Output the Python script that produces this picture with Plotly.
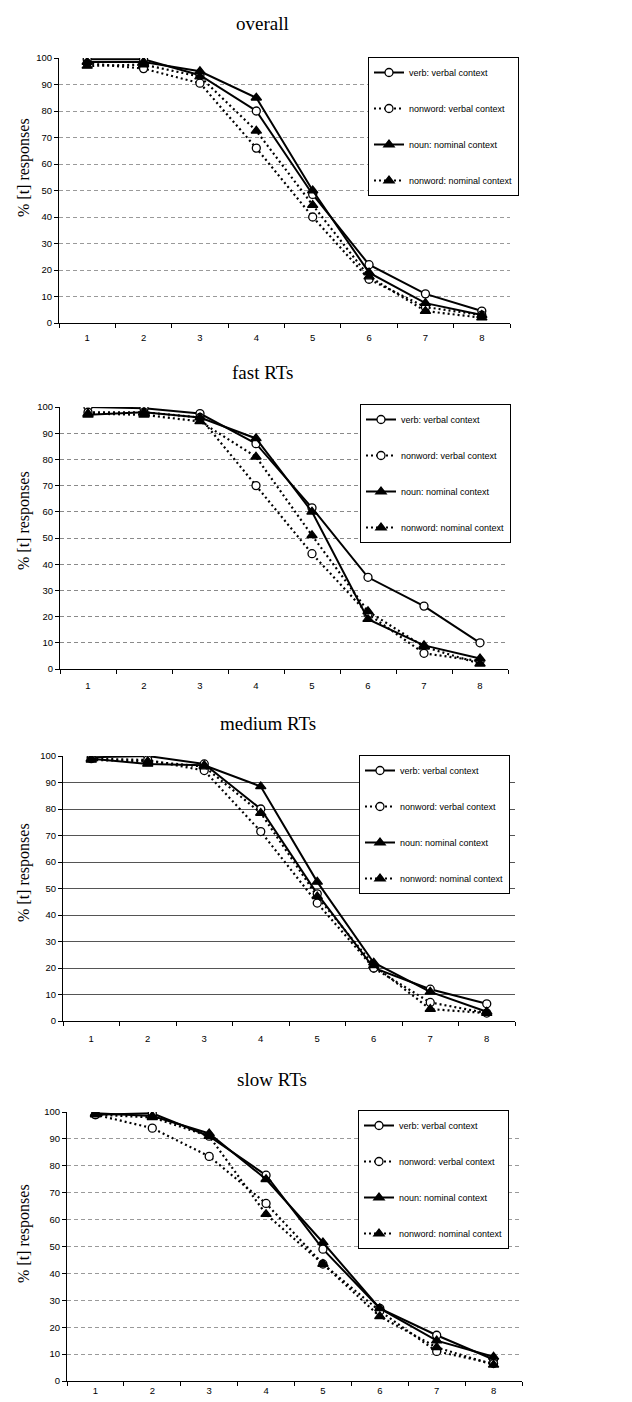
import plotly.graph_objects as go

W, H = 632, 1402

categories = [1, 2, 3, 4, 5, 6, 7, 8]
panel_titles = ["overall", "fast RTs", "medium RTs", "slow RTs"]
series_names = ["verb: verbal context", "nonword: verbal context",
                "noun: nominal context", "nonword: nominal context"]
y_title = "% [t] responses"
y_ticks = [0, 10, 20, 30, 40, 50, 60, 70, 80, 90, 100]

# overall
overall_verb = [99.5, 99.5, 93.5, 80, 48.5, 22, 11, 4.5]
overall_nonword_verbal = [98, 96, 90.5, 66, 40, 16.5, 6, 3]
overall_noun = [98.5, 98.5, 95, 85, 50, 19, 7.5, 3]
overall_nonword_nominal = [97, 97.5, 93, 72.5, 44.5, 17.5, 4.5, 2]
# fast RTs
fast_verb = [100, 99.5, 97.5, 86, 61.5, 35, 24, 10]
fast_nonword_verbal = [98, 98, 96, 70, 44, 21, 6, 3]
fast_noun = [97, 98, 96, 88, 60, 19, 9, 4]
fast_nonword_nominal = [97.5, 97, 94.5, 81, 51, 22, 8.5, 2]
# medium RTs
medium_verb = [99.5, 100, 97, 80, 48, 20, 12, 6.5]
medium_nonword_verbal = [99, 98.5, 94.5, 71.5, 44.5, 20, 7, 3]
medium_noun = [99, 97, 96.5, 88.5, 52.5, 22, 11, 3.5]
medium_nonword_nominal = [98.5, 98, 96, 78.5, 47, 21, 4.5, 3]
# slow RTs
slow_verb = [99, 99.5, 91, 76.5, 49, 27, 17, 8]
slow_nonword_verbal = [99, 94, 83.5, 66, 43.5, 26, 11, 6.5]
slow_noun = [99.5, 98.5, 92, 75, 51.5, 27, 15, 9]
slow_nonword_nominal = [99, 98, 91, 62, 43.5, 24, 12.5, 6]

panel_data = [
    [overall_verb, overall_nonword_verbal, overall_noun, overall_nonword_nominal],
    [fast_verb, fast_nonword_verbal, fast_noun, fast_nonword_nominal],
    [medium_verb, medium_nonword_verbal, medium_noun, medium_nonword_nominal],
    [slow_verb, slow_nonword_verbal, slow_noun, slow_nonword_nominal],
]

# layout in pixels: (left, right, top(y=100), bottom(y=0))
plot_px = [(59, 510, 58, 323), (60, 508, 407, 669), (63, 515, 756, 1021), (67, 522, 1112, 1381)]
x_label_gap = [6, 8, 9, 1]
title_px = [(262, 23), (262, 373), (268, 723), (272, 1079)]
ytitle_py = [168, 521, 873, 1234]
legend_px = [(368, 57), (360, 404), (359, 755), (358, 1110)]
grid_styles = [("#9a9a9a", "4px,3px"), ("#8a8a8a", "4px,3px"), ("#555555", "solid"), ("#9a9a9a", "4px,3px")]

styles = [
    dict(dash="solid", symbol="circle"),
    dict(dash="2px,3px", symbol="circle"),
    dict(dash="solid", symbol="triangle-up"),
    dict(dash="2px,3px", symbol="triangle-up"),
]

def px_x(v):
    return v / W

def px_y(v):
    return 1 - v / H

fig = go.Figure()
annotations = []
for p in range(4):
    sfx = "" if p == 0 else str(p + 1)
    leg = "legend" if p == 0 else f"legend{p + 1}"
    for s in range(4):
        st = styles[s]
        is_circle = st["symbol"] == "circle"
        fig.add_trace(go.Scatter(
            x=categories, y=panel_data[p][s], name=series_names[s],
            mode="lines+markers",
            xaxis="x" + sfx, yaxis="y" + sfx,
            legend=leg, legendgroup=f"g{p}_{s}",
            line=dict(color="black", width=2 if st["dash"] == "solid" else 2.2, dash=st["dash"]),
            marker=dict(symbol=st["symbol"],
                        size=8 if is_circle else 9,
                        color="white" if is_circle else "black",
                        line=dict(color="black", width=1.3)),
            showlegend=True,
        ))
    l, r, t, b = plot_px[p]
    gc, gd = grid_styles[p]
    fig.layout["xaxis" + sfx] = dict(
        domain=[px_x(l), px_x(r)], anchor="y" + sfx, range=[0.5, 8.5],
        tickmode="array", tickvals=categories, ticktext=[str(c) for c in categories],
        ticks="outside", ticklen=x_label_gap[p], tickcolor="rgba(0,0,0,0)",
        minor=dict(tickmode="array", tickvals=[c + 0.5 for c in [0] + categories],
                   ticks="outside", ticklen=4, tickcolor="black", showgrid=False),
        showline=True, linecolor="black", linewidth=1, showgrid=False, zeroline=False,
        tickfont=dict(family="Liberation Sans, Arial", size=9.5, color="black"),
        automargin=False, fixedrange=True,
    )
    fig.layout["yaxis" + sfx] = dict(
        domain=[px_y(b), px_y(t)], anchor="x" + sfx, range=[0, 100],
        tickmode="array", tickvals=y_ticks,
        ticks="outside", ticklen=4, tickcolor="black",
        showline=True, linecolor="black", linewidth=1,
        showgrid=True, gridcolor=gc, griddash=gd, gridwidth=1, zeroline=False,
        tickfont=dict(family="Liberation Sans, Arial", size=9.5, color="black"),
        automargin=False, fixedrange=True,
    )
    tx, ty = title_px[p]
    annotations.append(dict(text=panel_titles[p], x=px_x(tx), y=px_y(ty), xref="paper", yref="paper",
                            xanchor="center", yanchor="middle", showarrow=False,
                            font=dict(family="Liberation Serif, Times New Roman", size=19, color="black")))
    annotations.append(dict(text=y_title, x=px_x(24), y=px_y(ytitle_py[p]), xref="paper", yref="paper",
                            xanchor="center", yanchor="middle", showarrow=False, textangle=-90,
                            font=dict(family="Liberation Serif, Times New Roman", size=16, color="black")))
    lx, ly = legend_px[p]
    fig.layout[leg] = dict(
        x=px_x(lx), y=px_y(ly), xanchor="left", yanchor="top", xref="paper", yref="paper",
        bgcolor="white", bordercolor="black", borderwidth=1,
        font=dict(family="Liberation Sans, Arial", size=9, color="black"),
        tracegroupgap=17, traceorder="grouped", itemwidth=30,
    )

fig.update_layout(
    width=W, height=H, margin=dict(l=0, r=0, t=0, b=0, autoexpand=False),
    paper_bgcolor="white", plot_bgcolor="white",
    annotations=annotations,
)

fig.write_html(
    "out.html",
    config={"displayModeBar": False},
    post_script="document.body.style.margin='0px';document.body.style.padding='0px';"
                "document.body.style.overflow='hidden';",
)
